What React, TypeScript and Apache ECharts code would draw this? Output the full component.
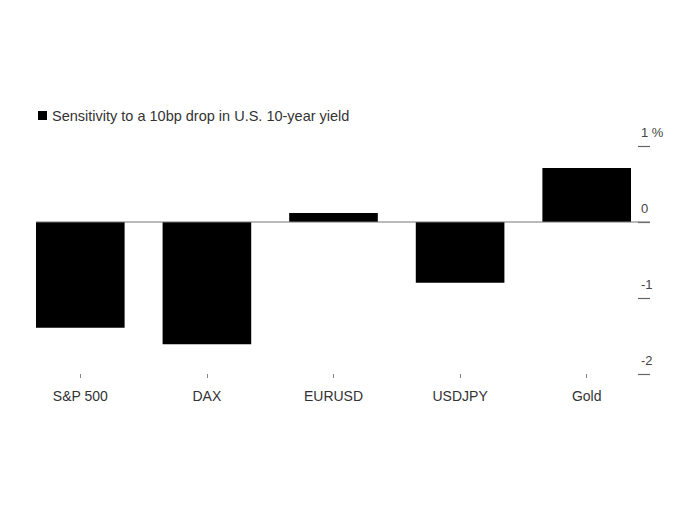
import React, { useEffect, useRef } from "react";
import * as echarts from "echarts";

const categories = ["S&P 500", "DAX", "EURUSD", "USDJPY", "Gold"];
const sensitivity = [-1.39, -1.61, 0.12, -0.8, 0.71];
const yTicks = { min: -2, max: 1, interval: 1 };
const seriesName = "Sensitivity to a 10bp drop in U.S. 10-year yield";
// zero reference line: from first bar's left edge to the right edge of the plot (category index units)
const zeroLine = [
  [-0.35, 0],
  [4.5, 0],
];

export default function App() {
  const ref = useRef<HTMLDivElement>(null);
  useEffect(() => {
    if (!ref.current) return;
    const chart = echarts.init(ref.current, null, { renderer: "svg" });
    const font = "'Liberation Sans', Arial, Helvetica, sans-serif";
    chart.setOption({
      animation: false,
      backgroundColor: "#ffffff",
      textStyle: { fontFamily: font },
      legend: {
        left: 38,
        top: 108,
        padding: 0,
        icon: "rect",
        itemWidth: 9,
        itemHeight: 9,
        itemGap: 6,
        data: [seriesName],
        textStyle: { fontSize: 14.5, color: "#333", fontFamily: font },
      },
      grid: { left: 17, right: 30, top: 146, bottom: 136, containLabel: false },
      xAxis: [
        {
          type: "category",
          data: categories,
          position: "bottom",
          axisLine: { show: false, onZero: false },
          axisTick: { show: true, alignWithLabel: true, length: 4, lineStyle: { color: "#888" } },
          axisLabel: { fontSize: 14, color: "#333", margin: 15, fontFamily: font },
        },
        {
          type: "value",
          min: -0.5,
          max: 4.5,
          show: false,
          axisLine: { onZero: false },
        },
      ],
      yAxis: {
        type: "value",
        position: "right",
        min: yTicks.min,
        max: yTicks.max,
        interval: yTicks.interval,
        splitLine: { show: false },
        axisLine: { show: false, onZero: false },
        axisTick: { show: true, inside: true, length: 12, lineStyle: { color: "#666", width: 1.2 } },
        axisLabel: {
          align: "left",
          margin: -9,
          verticalAlign: "bottom",
          padding: [0, 0, 7, 0],
          fontSize: 13,
          color: "#444",
          fontFamily: font,
          formatter: (v: number) => (v === yTicks.max ? `${v} %` : `${v}`),
        },
      },
      series: [
        {
          name: seriesName,
          type: "bar",
          data: sensitivity,
          xAxisIndex: 0,
          barCategoryGap: "30%",
          itemStyle: { color: "#000" },
          z: 2,
        },
        {
          name: "zero",
          type: "line",
          xAxisIndex: 1,
          data: zeroLine,
          symbol: "none",
          lineStyle: { color: "#777", width: 1.2 },
          silent: true,
          z: 3,
        },
      ],
    });
    return () => chart.dispose();
  }, []);
  return (
    <div
      ref={ref}
      style={{ position: "fixed", left: 0, top: 0, width: 680, height: 510 }}
    />
  );
}
